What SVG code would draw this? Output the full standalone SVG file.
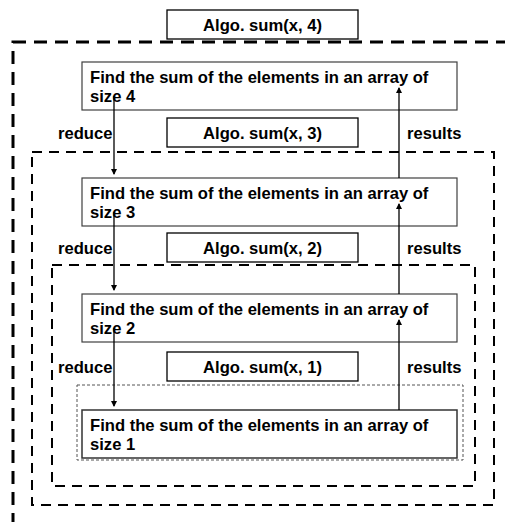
<svg xmlns="http://www.w3.org/2000/svg" width="505" height="522" viewBox="0 0 505 522">
<defs>
<style>
text{font-family:"Liberation Sans",Arial,sans-serif;font-weight:bold;fill:#000}
.t{font-size:16.6px}
.a{font-size:16.6px;text-anchor:middle}
.l{font-size:16.6px}
.box{fill:#fff;stroke:#404040;stroke-width:1.2}
.abox{fill:#fff;stroke:#000;stroke-width:1.3}
.d1{fill:none;stroke:#000;stroke-width:3;stroke-dasharray:13 8}
.d2{fill:none;stroke:#000;stroke-width:2;stroke-dasharray:10 7}
.d3{fill:none;stroke:#555;stroke-width:1;stroke-dasharray:3 2}
.c{stroke:#000;stroke-width:1.3;fill:none;marker-end:url(#ah)}
</style>
<marker id="ah" markerWidth="6" markerHeight="6" refX="5" refY="3" orient="auto" markerUnits="userSpaceOnUse">
<path d="M0,0 L6,3 L0,6 Z" fill="#000"/>
</marker>
</defs>
<rect width="505" height="522" fill="#fff"/>
<g id="frames">
<rect class="d1" x="13" y="42" width="520" height="520"/>
<rect class="d2" x="32" y="152" width="462" height="353"/>
<rect class="d2" x="52" y="265" width="423" height="221"/>
<rect class="d3" x="77" y="385" width="386" height="75"/>
</g>
<g id="algo4"><rect class="abox" x="167" y="10" width="191" height="29"/><text class="a" x="262.5" y="30.5">Algo. sum(x, 4)</text></g>
<g id="algo3"><rect class="abox" x="167" y="118" width="191" height="29"/><text class="a" x="262.5" y="138.5">Algo. sum(x, 3)</text></g>
<g id="algo2"><rect class="abox" x="167" y="233" width="191" height="29"/><text class="a" x="262.5" y="253.5">Algo. sum(x, 2)</text></g>
<g id="algo1"><rect class="abox" x="167" y="352" width="191" height="29"/><text class="a" x="262.5" y="372.5">Algo. sum(x, 1)</text></g>
<g id="box4"><rect class="box" x="82" y="62" width="375" height="48"/><text class="t" x="90" y="83">Find the sum of the elements in an array of</text><text class="t" x="90" y="102">size 4</text></g>
<g id="box3"><rect class="box" x="82" y="178" width="375" height="48"/><text class="t" x="90" y="199">Find the sum of the elements in an array of</text><text class="t" x="90" y="218">size 3</text></g>
<g id="box2"><rect class="box" x="82" y="294" width="375" height="48"/><text class="t" x="90" y="315">Find the sum of the elements in an array of</text><text class="t" x="90" y="334">size 2</text></g>
<g id="box1"><rect class="box" x="82" y="410" width="375" height="48" style="stroke:#333;stroke-width:1.5"/><text class="t" x="90" y="431">Find the sum of the elements in an array of</text><text class="t" x="90" y="450">size 1</text></g>
<g id="labels">
<text class="l" x="58" y="138.5">reduce</text><text class="l" x="407" y="138.5">results</text>
<text class="l" x="58" y="253.5">reduce</text><text class="l" x="407" y="253.5">results</text>
<text class="l" x="58" y="372.5">reduce</text><text class="l" x="407" y="372.5">results</text>
</g>
<g id="connectors">
<line class="c" x1="114" y1="96" x2="114" y2="174"/>
<line class="c" x1="114" y1="212" x2="114" y2="290"/>
<line class="c" x1="114" y1="328" x2="114" y2="406"/>
<line class="c" x1="399" y1="178" x2="399" y2="88"/>
<line class="c" x1="399" y1="294" x2="399" y2="204"/>
<line class="c" x1="399" y1="410" x2="399" y2="320"/>
</g>
</svg>
